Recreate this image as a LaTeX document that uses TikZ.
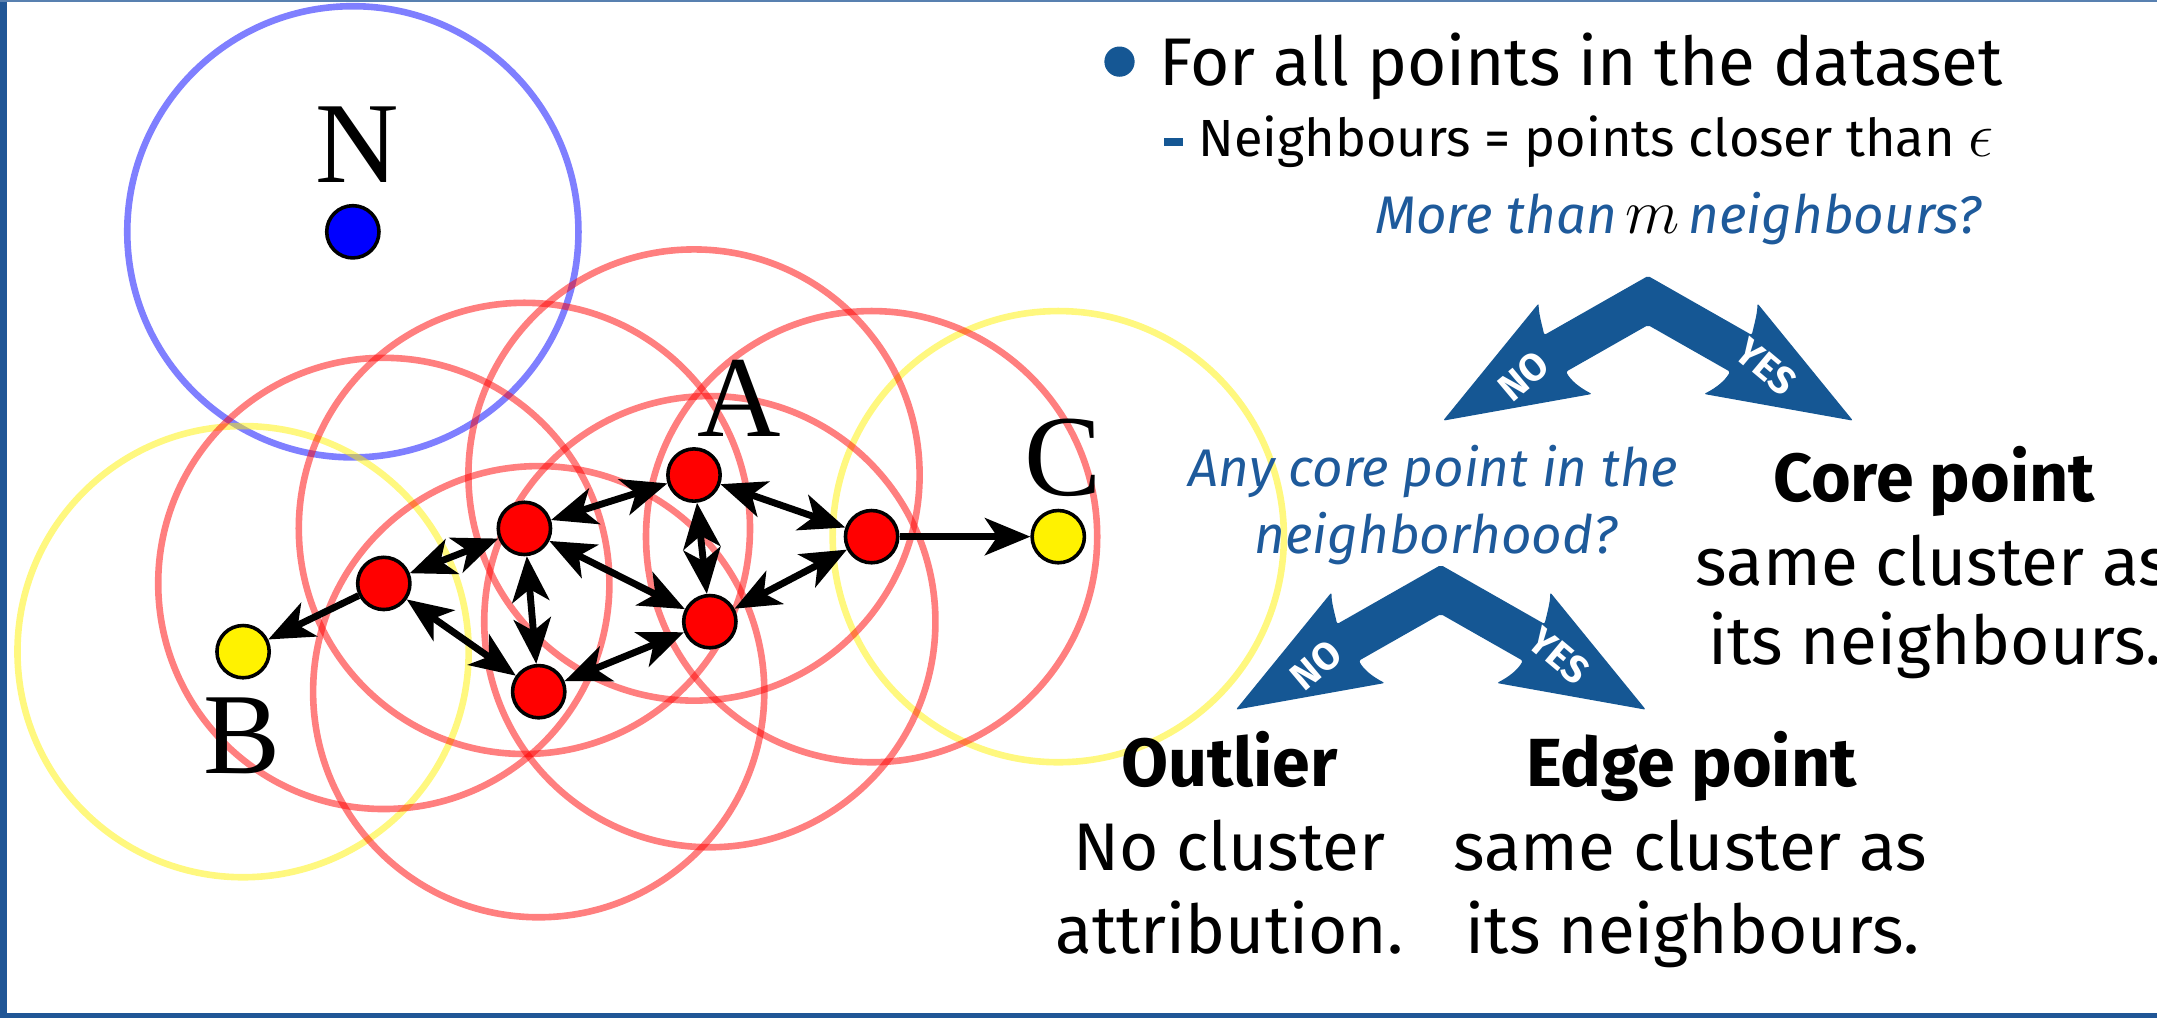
\RequirePackage{fix-cm}
\documentclass[tikz,border=0pt]{standalone}
\usepackage{fontspec}
\setmainfont{Fira Sans}
\newfontfamily\seriflbl{Liberation Serif}
\usetikzlibrary{arrows.meta}
\definecolor{framebl}{RGB}{32,86,150}
\definecolor{chevbl}{RGB}{21,87,148}
\definecolor{qblue}{RGB}{30,90,155}
\newcommand{\bigmath}[2]{{\fontsize{#1}{#1}\selectfont$#2$}}
\tikzset{
  eps/.style={draw=#1, draw opacity=0.5, line width=4.8pt},
  dot/.style={circle, draw=black, line width=2.6pt, fill=#1, minimum size=38pt, inner sep=0pt},
  lbl/.style={font=\seriflbl\fontsize{84}{90}\selectfont, anchor=base, inner sep=0pt},
  link/.style={line width=5pt, {Stealth[length=33pt,width=27pt,inset=9pt]}-{Stealth[length=33pt,width=27pt,inset=9pt]}},
  onelink/.style={line width=5pt, -{Stealth[length=33pt,width=27pt,inset=9pt]}},
  bigtxt/.style={font=\fontsize{49}{58}\selectfont, anchor=base west, inner sep=0pt},
  subtxt/.style={font=\fontsize{38}{46}\selectfont, anchor=base west, inner sep=0pt},
  qtxt/.style={font=\itshape\fontsize{38.5}{46}\selectfont, text=qblue, anchor=base, inner sep=0pt},
  headtxt/.style={font=\bfseries\fontsize{49.5}{58}\selectfont, anchor=base, inner sep=0pt},
  bodytxt/.style={font=\fontsize{49}{58}\selectfont, anchor=base, inner sep=0pt},
  chevtxt/.style={font=\bfseries\fontsize{28}{30}\selectfont, text=white, inner sep=0pt},
  pics/chevron/.style={code={
    \fill[chevbl, rounded corners=1.5pt] (0,0) -- (-75.4,42.9)
      .. controls (-77.5,34) and (-79.5,27) .. (-79.5,19.9) -- (-149,105.2) -- (-40.7,85.8)
      .. controls (-50,81) and (-56,76) .. (-59.6,69.6) -- (0,35.7) -- (59.6,69.6)
      .. controls (56,76) and (50,81) .. (40.7,85.8) -- (149,105.2) -- (79.5,19.9)
      .. controls (79.5,27) and (77.5,34) .. (75.4,42.9) -- cycle;
    \node[chevtxt, rotate=40] (-no) at (-90.5,73) {NO};
    \node[chevtxt, rotate=-40] (-yes) at (86,66) {YES};
  }}
}
\begin{document}
\begin{tikzpicture}[x=1pt, y=-1pt]
\useasboundingbox (0,0) rectangle (1568,740);
% frame
\fill[framebl] (0,0) rectangle (5.3,740);
\fill[framebl] (0,736.6) rectangle (1568,740);
\fill[framebl!75] (0,0) rectangle (1568,1.2);
% positions
\coordinate (cN) at (256.5,168.5);
\coordinate (cB) at (176.7,473.7);
\coordinate (cC) at (769.3,390.1);
\coordinate (c1) at (279,424.1);
\coordinate (c2) at (381.2,384.1);
\coordinate (cA) at (504.5,345.3);
\coordinate (c4) at (633.6,390.1);
\coordinate (c5) at (516,451.9);
\coordinate (c6) at (391.6,502.8);
% epsilon neighbourhoods
\draw[eps=blue] (cN) circle[radius=164];
\draw[eps=yellow] (cB) circle[radius=164];
\draw[eps=yellow] (cC) circle[radius=164];
\foreach \c in {c1,c2,cA,c4,c5,c6}{\draw[eps=red] (\c) circle[radius=164];}
% points
\node[dot=blue] (N) at (cN) {};
\node[dot=yellow] (B) at (cB) {};
\node[dot=yellow] (C) at (cC) {};
\node[dot=red] (p1) at (c1) {};
\node[dot=red] (p2) at (c2) {};
\node[dot=red] (A) at (cA) {};
\node[dot=red] (p4) at (c4) {};
\node[dot=red] (p5) at (c5) {};
\node[dot=red] (p6) at (c6) {};
% labels
\node[lbl] (labN) at (260,133) {N};
\node[lbl] (labA) at (537,317) {A};
\node[lbl] (labB) at (176,562) {B};
\node[lbl] (labC) at (773,360) {C};
% links
\draw[link] (p1) -- (p2);
\draw[link] (p2) -- (A);
\draw[link] (A) -- (p4);
\draw[link] (A) -- (p5);
\draw[link] (p2) -- (p5);
\draw[link] (p2) -- (p6);
\draw[link] (p1) -- (p6);
\draw[link] (p6) -- (p5);
\draw[link] (p5) -- (p4);
\draw[onelink] (p1) -- (B);
\draw[onelink] (p4) -- (C);
% right side text
\fill[chevbl] (813.8,44.8) circle[radius=11];
\node[bigtxt] (t1) at (842.8,62.5) {For all points in the dataset};
\fill[chevbl] (846,100.5) rectangle (860,106);
\node[subtxt] (t2) at (871,113.9) {Neighbours = points closer than \bigmath{46}{\epsilon}};
\node[qtxt] (q1) at (1220,169.6) {More than\,\textcolor{black}{\bigmath{46}{m}}\,neighbours?};
\pic (ch1) at (1198,200.6) {chevron};
\node[qtxt] (q2a) at (1042,353.8) {Any core point in the};
\node[qtxt] (q2b) at (1044,402.3) {neighborhood?};
\pic (ch2) at (1047.4,410.7) {chevron};
\node[headtxt] (core) at (1406,364.7) {Core point};
\node[bodytxt] (core2) at (1405,425.3) {same cluster as};
\node[bodytxt] (core3) at (1406.7,483.4) {its neighbours.};
\node[headtxt] (out) at (893.8,571.9) {Outlier};
\node[bodytxt] (out2) at (893.7,632.5) {No cluster};
\node[bodytxt] (out3) at (893.8,693) {attribution.};
\node[headtxt] (edge) at (1229.6,571.9) {Edge point};
\node[bodytxt] (edge2) at (1228.6,632.5) {same cluster as};
\node[bodytxt] (edge3) at (1230.6,693) {its neighbours.};
\end{tikzpicture}
\end{document}
